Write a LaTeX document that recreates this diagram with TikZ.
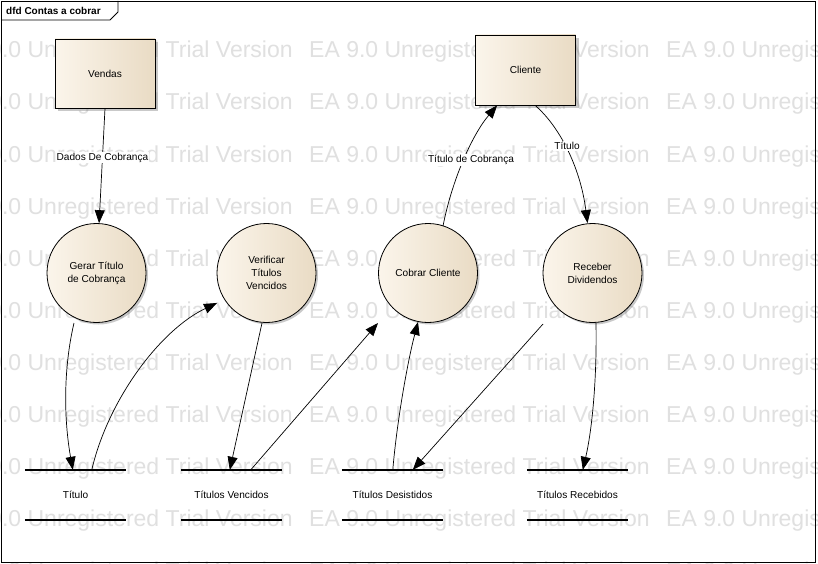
\documentclass[tikz,border=0pt]{standalone}
\usepackage{fontspec}
\setmainfont{Liberation Sans}
\usetikzlibrary{arrows.meta,shadows,calc}
\definecolor{wmgray}{RGB}{224,224,224}
\definecolor{fillL}{RGB}{251,245,235}
\definecolor{fillR}{RGB}{233,219,196}
\newcommand{\lbfont}{\fontsize{10.1}{13}\selectfont}
\tikzset{
  wmark/.style={text=wmgray, font=\fontsize{23}{27}\selectfont, anchor=base west, inner sep=0pt},
  entity/.style={draw=black, line width=0.8pt, left color=fillL, right color=fillR,
    minimum width=100pt, minimum height=69pt, inner sep=0pt, font=\lbfont,
    drop shadow={shadow xshift=3pt, shadow yshift=-3pt, opacity=0.35, fill=black!60}},
  process/.style={circle, draw=black, line width=0.8pt, left color=fillL, right color=fillR,
    minimum size=99pt, inner sep=0pt, align=center, font=\lbfont,
    drop shadow={shadow xshift=2pt, shadow yshift=-2pt, opacity=0.35, fill=black!60}},
  store/.style={minimum width=101pt, minimum height=50pt, inner sep=0pt, font=\lbfont},
  storeline/.style={line width=1.7pt},
  flow/.style={line width=0.7pt, -{Triangle[length=13pt,width=10pt]}},
  flowlabel/.style={fill=white, inner sep=1pt, font=\lbfont}
}
\begin{document}
\begin{tikzpicture}[x=1pt,y=-1pt]
\useasboundingbox (0,0) rectangle (818,564);
\fill[white] (0,0) rectangle (818,564);
% watermark
\begin{scope}
\clip (0,0) rectangle (818,564);
\foreach \yy in {58,110,162,214,266,318,370,422,474,526,578}{
  \foreach \xx in {-48,309,666}{
    \node[wmark] at (\xx,\yy) {EA 9.0 Unregistered Trial Version};
  }
}
\end{scope}
% frame
\draw[line width=0.8pt] (1,1) rectangle (815,562);
\draw[line width=0.8pt] (1,20) -- (110,20) -- (118,12) -- (118,1);
\node[anchor=west, inner sep=0pt, font=\fontsize{10}{12}\selectfont\bfseries] (title) at (6,10.5) {dfd Contas a cobrar};
% entities
\node[entity] (vendas) at (105,73.5) {Vendas};
\node[entity, minimum height=70pt] (cliente) at (525.5,70) {Cliente};
% processes
\node[process] (gerar) at (96.5,273) {Gerar Título\\de Cobrança};
\node[process] (verif) at (266.5,273) {Verificar\\Títulos\\Vencidos};
\node[process] (cobrar) at (428,273) {Cobrar Cliente};
\node[process] (receber) at (592.5,273) {Receber\\Dividendos};
% data stores
\node[store] (s1) at (75.5,495) {Título};
\node[store] (s2) at (231.5,495) {Títulos Vencidos};
\node[store] (s3) at (392.5,495) {Títulos Desistidos};
\node[store] (s4) at (577.5,495) {Títulos Recebidos};
\foreach \s in {s1,s2,s3,s4}{
  \draw[storeline] (\s.north west) -- (\s.north east);
  \draw[storeline] (\s.south west) -- (\s.south east);
}
% flows
\draw[flow] (vendas.south) -- node[flowlabel, pos=0.43] {Dados De Cobrança} (gerar);
\draw[flow] ($(gerar.center)+(-22.5,50)$) .. controls (63,370) and (64,420) .. ($(s1.north west)+(48,0)$);
\draw[flow] ($(s1.north west)+(67,0)$) .. controls (108,400) and (160,330) .. ($(verif.center)+(-49.5,30)$);
\draw[flow] ($(verif.center)+(-4.5,50)$) -- ($(s2.north west)+(49,0)$);
\draw[flow] ($(s2.north west)+(70,0)$) -- ($(cobrar.center)+(-50,50)$);
\draw[flow] ($(s3.north west)+(51,0)$) .. controls (397,420) and (408,360) .. ($(cobrar.center)+(-10,49)$);
\draw[flow] ($(receber.center)+(-49.5,51)$) -- ($(s3.north west)+(71,0)$);
\draw[flow] ($(receber.center)+(3.5,50)$) .. controls (597,380) and (592,430) .. ($(s4.north west)+(56,0)$);
\draw[flow] ($(cobrar.center)+(15,-47)$) .. controls (452,180) and (472,135) .. ($(cliente.south west)+(22,0)$);
\node[flowlabel] (lbl1) at (471,160) {Título de Cobrança};
\draw[flow] ($(cliente.south west)+(60,0)$) .. controls (558,125) and (580,165) .. ($(receber.center)+(-5,-50)$);
\node[flowlabel] (lbl2) at (567,146) {Título};
\end{tikzpicture}
\end{document}
